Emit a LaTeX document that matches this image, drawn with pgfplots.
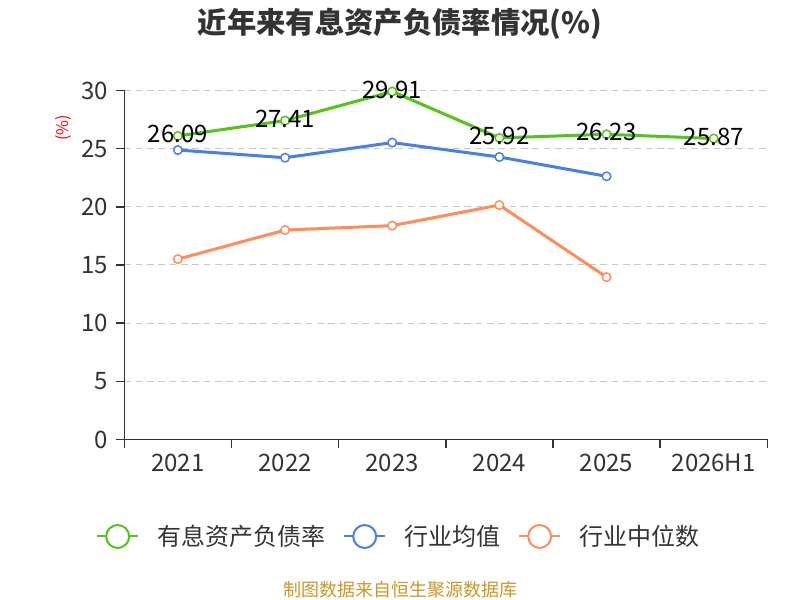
\documentclass[border=0pt]{standalone}
\usepackage{pgfplots}
\pgfplotsset{compat=1.18}
\usepackage{fontspec}
\setmainfont{Noto Sans CJK SC}
\definecolor{cgreen}{RGB}{82,196,26}
\definecolor{cblue}{RGB}{74,128,226}
\definecolor{corange}{RGB}{255,140,90}
\definecolor{cdark}{RGB}{51,51,51}
\definecolor{cgrid}{RGB}{200,200,200}
\definecolor{cgold}{RGB}{204,150,40}
\newcommand{\tickfont}{\fontsize{18}{21}\selectfont}
\begin{document}
\begin{tikzpicture}[x=0.75pt,y=0.75pt]
\path (0,0) rectangle (800,600);
\node[font=\fontsize{22}{26}\selectfont\bfseries, text=cdark] at (400,576) {近年来有息资产负债率情况(\%)};
\node[font=\fontsize{12}{14}\selectfont, text=red, rotate=90] at (64,472) {(\%)};
\begin{axis}[
  at={(116,138)}, anchor=south west,
  scale only axis, width=482.25pt, height=261.75pt,
  xmin=-0.5, xmax=5.5, ymin=0, ymax=30,
  clip=false,
  axis lines*=left,
  axis line style={cdark, line width=1.1pt},
  xtick={-0.5,0.5,...,5.5},
  xticklabels={2021,2022,2023,2024,2025,2026H1,{}},
  xticklabel style={xshift=40.19pt, yshift=-1pt, font=\tickfont, text=cdark},
  ytick={0,5,...,30},
  yticklabel style={font=\tickfont, text=cdark, xshift=-2pt},
  /pgf/number format/assume math mode=true,
  tick align=outside,
  major tick length=6.5pt,
  tick style={cdark, line width=1.1pt},
  ymajorgrids,
  major grid style={cgrid, line width=0.75pt, dash pattern=on 5pt off 3.5pt},
  legend style={at={(0.4277,-0.278)}, anchor=center, draw=none, fill=none,
    legend columns=3, font=\tickfont, text=cdark,
    /tikz/every odd column/.append style={column sep=12pt},
    /tikz/every even column/.append style={column sep=11pt}},
  legend image code/.code={
    \draw[#1, mark=none, line width=1.5pt, solid] (0pt,0pt) -- (30.75pt,0pt);
    \draw[#1, mark=none, fill=white, line width=1.5pt, solid] (15.4pt,0pt) circle (8.6pt);
  },
]
\addplot[cgreen, line width=2.25pt, mark=*, mark size=3.2pt,
  mark options={fill=white, line width=1.1pt},
  nodes near coords, point meta=explicit symbolic,
  nodes near coords style={font=\tickfont, text=black, anchor=center, yshift=1.5pt}]
  coordinates {(0,26.09)[26.09] (1,27.41)[27.41] (2,29.91)[29.91] (3,25.92)[25.92] (4,26.23)[26.23] (5,25.87)[25.87]};
\addlegendentry{有息资产负债率}
\addplot[cblue, line width=2.25pt, mark=*, mark size=3.2pt,
  mark options={fill=white, line width=1.1pt}]
  coordinates {(0,24.88) (1,24.22) (2,25.52) (3,24.28) (4,22.62)};
\addlegendentry{行业均值}
\addplot[corange, line width=2.25pt, mark=*, mark size=3.2pt,
  mark options={fill=white, line width=1.1pt}]
  coordinates {(0,15.5) (1,18.0) (2,18.38) (3,20.15) (4,13.95)};
\addlegendentry{行业中位数}
\end{axis}
\node[font=\fontsize{13.5}{16}\selectfont, text=cgold] at (400,10) {制图数据来自恒生聚源数据库};
\pgfresetboundingbox
\path (0,0) rectangle (800,600);
\end{tikzpicture}
\end{document}
